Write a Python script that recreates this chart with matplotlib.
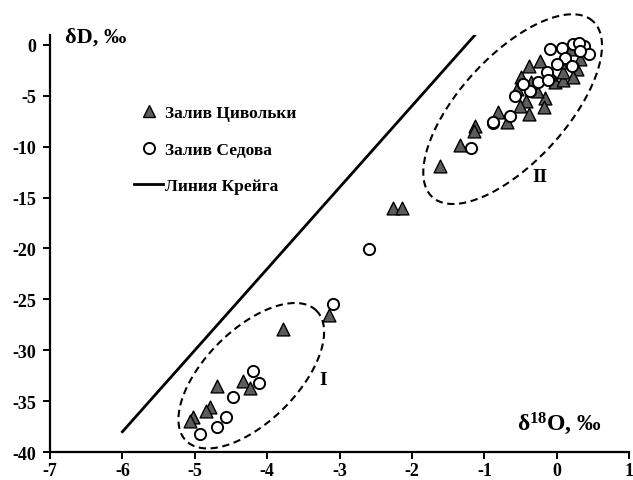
"""δ18O–δD scatter for two bays with the global meteoric water line."""

import matplotlib
matplotlib.use("Agg")
import matplotlib.pyplot as plt
import numpy as np
from matplotlib.lines import Line2D

plt.rcParams["font.family"] = ["Liberation Serif", "DejaVu Serif"]
plt.rcParams["font.weight"] = "bold"
plt.rcParams["axes.unicode_minus"] = False
plt.rcParams["mathtext.fontset"] = "custom"
plt.rcParams["mathtext.rm"] = "Liberation Serif:bold"
plt.rcParams["mathtext.default"] = "rm"

# Залив Цивольки (triangles)
tsiv_o18 = [-1.61, -2.26, -2.14, -1.34, -1.13, -1.15, -3.78, -3.14, -4.33, -4.24,
            -4.70, -4.79, -4.84, -5.02, -5.07, -0.81, -0.39, -0.23, -0.49, -0.55,
            -0.42, -0.39, -0.16, -0.18, -0.03, 0.09, 0.09, 0.32, 0.28, -0.28,
            -0.35, -0.69, -0.51, -0.09, 0.04, 0.23, 0.18]
tsiv_dd = [-11.9, -16.0, -16.0, -9.85, -7.95, -8.45, -27.9, -26.5, -33.0, -33.7,
           -33.5, -35.6, -36.0, -36.6, -36.9, -6.6, -2.1, -1.6, -3.2, -4.35,
           -5.5, -6.8, -5.2, -6.15, -3.7, -3.5, -2.7, -1.4, -2.4, -4.5,
           -3.7, -7.6, -6.0, -2.9, -1.7, -3.2, -0.4]

# Залив Седова (circles)
sedov_o18 = [-1.18, -0.88, -2.59, -3.09, -4.19, -4.12, -4.47, -4.57, -4.69, -4.93,
             -0.09, 0.07, 0.23, 0.37, 0.30, 0.44, 0.32, 0.11, 0.00, 0.21,
             -0.14, -0.26, -0.12, -0.37, -0.58, -0.65, -0.88, -0.46]
sedov_dd = [-10.1, -7.7, -20.1, -25.5, -32.0, -33.2, -34.6, -36.6, -37.5, -38.2,
            -0.4, -0.35, 0.07, -0.1, 0.2, -0.9, -0.6, -1.25, -1.9, -2.05,
            -2.7, -3.7, -3.5, -4.5, -5.0, -7.0, -7.6, -3.9]

# Линия Крейга: δD = 8·δ18O + 10
craig_o18 = np.array([-6.0, -1.125])
craig_dd = 8 * craig_o18 + 10

# groups I and II: centre, semi-major and semi-minor vectors (data units)
groups = {
    "I": dict(c=(-4.22, -32.5), a=(0.90, 6.39), b=(-0.45, 3.19), label_xy=(-3.23, -32.9)),
    "II": dict(c=(-0.61, -6.32), a=(1.11, 8.63), b=(-0.54, 3.51), label_xy=(-0.24, -12.9)),
}

fig = plt.figure(figsize=(6.33, 4.81), dpi=100)
ax = fig.add_axes([0.079, 0.058, 0.915, 0.868])

ax.plot(craig_o18, craig_dd, color="black", lw=2.0, zorder=2)

for name, g in groups.items():
    t = np.linspace(0, 2 * np.pi, 300)
    ex = g["c"][0] + np.cos(t) * g["a"][0] + np.sin(t) * g["b"][0]
    ey = g["c"][1] + np.cos(t) * g["a"][1] + np.sin(t) * g["b"][1]
    ax.plot(ex, ey, color="black", lw=1.5, ls=(0, (3.5, 2.2)), zorder=1, clip_on=False)
    ax.text(*g["label_xy"], name, fontsize=14, ha="center", va="center")

ax.scatter(tsiv_o18, tsiv_dd, marker="^", s=85, facecolor="#5c5c5c",
           edgecolor="black", linewidth=1.0, zorder=3)
ax.scatter(sedov_o18, sedov_dd, marker="o", s=65, facecolor="white",
           edgecolor="black", linewidth=1.4, zorder=4)

ax.set_xlim(-7, 1)
ax.set_ylim(-40, 1)
ax.set_xticks(np.arange(-7, 2, 1))
ax.set_yticks(np.arange(-40, 1, 5))
for side in ("top", "right"):
    ax.spines[side].set_visible(False)
for side in ("left", "bottom"):
    ax.spines[side].set_linewidth(1.6)
ax.tick_params(axis="both", direction="out", length=5, width=1.4, labelsize=13)
ax.tick_params(axis="x", pad=2)
ax.tick_params(axis="y", pad=5)

ax.text(-6.79, 0.3, "δD, ‰", fontsize=16)
ax.text(-0.55, -37.1, "δ$^{18}$O, ‰", fontsize=17, va="center")

handles = [
    Line2D([], [], ls="none", marker="^", ms=8.5, mfc="#5c5c5c", mec="black", label="Залив Цивольки"),
    Line2D([], [], ls="none", marker="o", ms=8, mfc="white", mec="black", mew=1.4, label="Залив Седова"),
    Line2D([], [], color="black", lw=2.0, label="Линия Крейга"),
]
ax.legend(handles=handles, loc="upper left", bbox_to_anchor=(0.118, 0.868), frameon=False,
          fontsize=12.5, labelspacing=1.15, handlelength=1.7, handletextpad=0.1)

fig.savefig("out.png", dpi=100)
